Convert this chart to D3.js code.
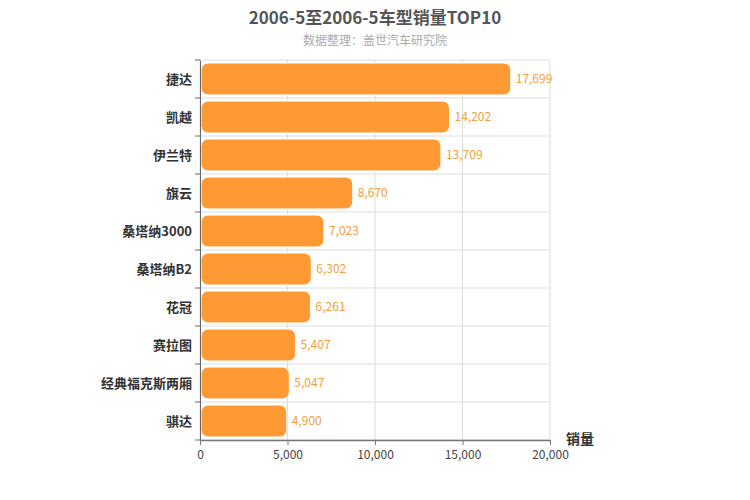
<!DOCTYPE html><html><head><meta charset="utf-8"><script src="https://cdn.jsdelivr.net/npm/d3@7"></script>
<style>body{margin:0;background:#fff}text{font-family:"Noto Sans CJK SC",Arial,sans-serif}</style></head><body><svg id="c" width="750" height="500"></svg>
<script>
const categories=["捷达","凯越","伊兰特","旗云","桑塔纳3000","桑塔纳B2","花冠","赛拉图","经典福克斯两厢","骐达"];
const sales=[17699,14202,13709,8670,7023,6302,6261,5407,5047,4900];
const xTicks=[0,5000,10000,15000,20000];
const svg=d3.select("#c");
const L=200,R=550,T=60,B=440;
const x=d3.scaleLinear().domain([0,20000]).range([L,R]);
const y=d3.scaleBand().domain(categories).range([T,B]).paddingInner(0.16).paddingOuter(0.08);
const fmt=d3.format(",");
svg.append("text").attr("x",375).attr("y",24).attr("text-anchor","middle").attr("font-size",17).attr("font-weight","bold").attr("fill","#555").text("2006-5至2006-5车型销量TOP10");
svg.append("text").attr("x",375).attr("y",45).attr("text-anchor","middle").attr("font-size",12).attr("fill","#aaa").text("数据整理：盖世汽车研究院");
const g=svg.append("g");
xTicks.forEach(t=>g.append("line").attr("x1",x(t)).attr("x2",x(t)).attr("y1",T).attr("y2",B).attr("stroke","#ddd"));
const step=(B-T)/categories.length;
for(let i=0;i<=categories.length;i++)g.append("line").attr("x1",L).attr("x2",R).attr("y1",T+i*step).attr("y2",T+i*step).attr("stroke","#ddd");
g.selectAll("rect.b").data(categories).enter().append("rect").attr("x",x(0)+1).attr("y",d=>y(d)).attr("height",y.bandwidth()).attr("width",(d,i)=>x(sales[i])-x(0)).attr("rx",7).attr("fill","#ff9933").attr("stroke","#fff");
g.selectAll("text.v").data(categories).enter().append("text").attr("x",(d,i)=>x(sales[i])+6).attr("y",d=>y(d)+y.bandwidth()/2+4).attr("font-size",12).attr("fill","#f0a040").text((d,i)=>fmt(sales[i]));
const ay=svg.append("g").attr("transform",`translate(${L},0)`).call(d3.axisLeft(d3.scaleLinear().range([T,B])).tickValues([]).tickSizeOuter(0));
ay.select(".domain").attr("stroke","#666");
for(let i=0;i<=categories.length;i++)svg.append("line").attr("x1",L-5).attr("x2",L).attr("y1",T+i*step).attr("y2",T+i*step).attr("stroke","#666");
categories.forEach(c=>svg.append("text").attr("x",L-8).attr("y",y(c)+y.bandwidth()/2+5).attr("text-anchor","end").attr("font-size",13).attr("font-weight","bold").attr("fill","#333").text(c));
const ax=svg.append("g").attr("transform",`translate(0,${B})`).call(d3.axisBottom(x).tickValues(xTicks).tickFormat(fmt).tickSize(5).tickSizeOuter(0));
ax.select(".domain").attr("stroke","#777").attr("stroke-width",1.5);
ax.selectAll("line").attr("stroke","#777");
ax.selectAll("text").attr("font-size",12).attr("fill","#444").attr("dy","0.9em");
svg.append("text").attr("x",580).attr("y",444).attr("text-anchor","middle").attr("font-size",14).attr("font-weight","bold").attr("fill","#333").text("销量");
</script></body></html>
